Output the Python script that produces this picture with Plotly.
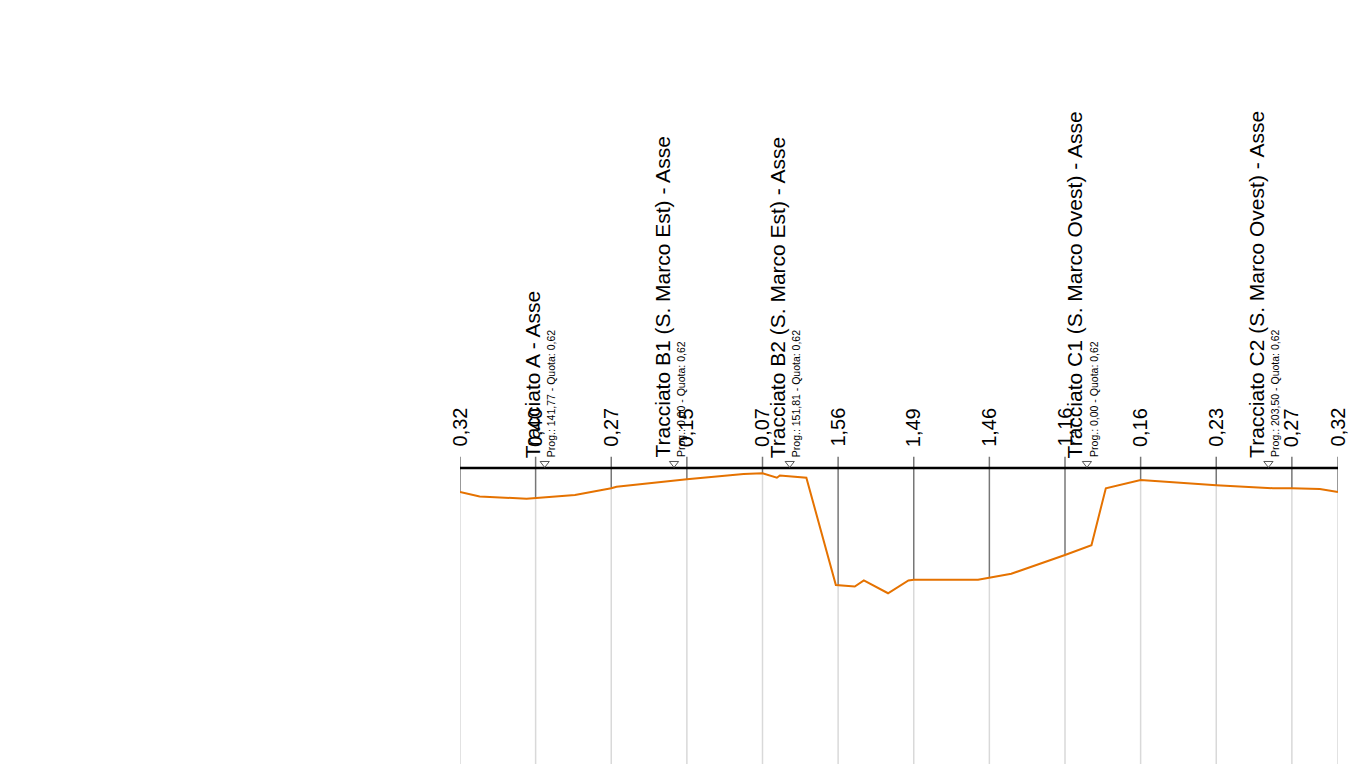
import numpy as np
import plotly.graph_objects as go

# profilo del fondo: progressiva (m) e profondita' sotto il piano (m)
prog = [0, 2.6, 8.8, 10, 15.2, 20, 20.7, 30, 37.5, 40, 41.9, 42.3, 45.8,
        49.7, 52.2, 53.4, 56.6, 59.3, 60, 68.5, 70, 72.9, 80, 83.5, 85.4,
        90, 100, 107.5, 110, 113.7, 116.1]
depth = [0.32, 0.38, 0.41, 0.40, 0.36, 0.27, 0.25, 0.15, 0.08, 0.07, 0.13, 0.10, 0.13,
         1.56, 1.58, 1.50, 1.67, 1.50, 1.49, 1.49, 1.46, 1.41, 1.16, 1.03, 0.27,
         0.16, 0.23, 0.27, 0.27, 0.28, 0.32]

# sezioni con quota
tick_prog = [0, 10, 20, 30, 40, 50, 60, 70, 80, 90, 100, 110, 116.1]
tick_labels = ["0,32", "0,40", "0,27", "0,15", "0,07", "1,56", "1,49", "1,46",
               "1,16", "0,16", "0,23", "0,27", "0,32"]

# intersezioni con altri tracciati
cross_names = ["Tracciato A - Asse",
               "Tracciato B1 (S. Marco Est) - Asse",
               "Tracciato B2 (S. Marco Est) - Asse",
               "Tracciato C1 (S. Marco Ovest) - Asse",
               "Tracciato C2 (S. Marco Ovest) - Asse"]
cross_prog = [11.2, 28.3, 43.6, 82.9, 106.9]
cross_info = ["Prog.: 141,77 - Quota: 0,62",
              "Prog.: 0,00 - Quota: 0,62",
              "Prog.: 151,81 - Quota: 0,62",
              "Prog.: 0,00 - Quota: 0,62",
              "Prog.: 203,50 - Quota: 0,62"]

W, H = 1349, 764
y_top, y_bot = 6.24, -3.947
tick_top = 0.15
tri_lift = 0.06
FONT = "Liberation Sans, Arial, sans-serif"

elev = -np.array(depth)
tick_elev = [-float(t.replace(",", ".")) for t in tick_labels]

fig = go.Figure()

shapes = []
for x, e in zip(tick_prog, tick_elev):
    # tratto scuro dal piano al fondo, tratto chiaro sotto il fondo
    shapes.append(dict(type="line", xref="x", yref="y", x0=x, x1=x, y0=tick_top, y1=e,
                       line=dict(color="#777777", width=1.5), layer="below"))
    shapes.append(dict(type="line", xref="x", yref="y", x0=x, x1=x, y0=e, y1=y_bot,
                       line=dict(color="#d9d9d9", width=1.5), layer="below"))

fig.add_trace(go.Scatter(x=[tick_prog[0], tick_prog[-1]], y=[0, 0], mode="lines",
                         line=dict(color="black", width=2.5), hoverinfo="skip"))
fig.add_trace(go.Scatter(x=prog, y=elev, mode="lines",
                         line=dict(color="#e57200", width=2)))
fig.add_trace(go.Scatter(x=cross_prog, y=[tri_lift] * len(cross_prog), mode="markers",
                         marker=dict(symbol="triangle-down-open", size=8,
                                     color="#555555", line=dict(width=1)),
                         hoverinfo="skip"))

annotations = []
for x, t in zip(tick_prog, tick_labels):
    annotations.append(dict(x=x, y=0, xref="x", yref="y", text=t, textangle=-90,
                            showarrow=False, xanchor="center", yanchor="bottom",
                            yshift=19, font=dict(size=20, color="black", family=FONT)))
for x, n, info in zip(cross_prog, cross_names, cross_info):
    annotations.append(dict(x=x, y=0, xref="x", yref="y", text=n, textangle=-90,
                            showarrow=False, xanchor="center", yanchor="bottom",
                            xshift=-12, yshift=8,
                            font=dict(size=21, color="black", family=FONT)))
    annotations.append(dict(x=x, y=0, xref="x", yref="y", text=info, textangle=-90,
                            showarrow=False, xanchor="center", yanchor="bottom",
                            xshift=7, yshift=9,
                            font=dict(size=10.5, color="black", family=FONT)))

fig.update_layout(width=W, height=H, showlegend=False,
                  paper_bgcolor="white", plot_bgcolor="white",
                  margin=dict(l=460, r=W - 1338, t=0, b=0),
                  shapes=shapes, annotations=annotations,
                  xaxis=dict(range=[0, 116.1], visible=False, showgrid=False, zeroline=False),
                  yaxis=dict(range=[y_bot, y_top], visible=False, showgrid=False, zeroline=False))

fig.write_html("out.html", config={"displayModeBar": False},
               post_script="document.body.style.margin='0';")
